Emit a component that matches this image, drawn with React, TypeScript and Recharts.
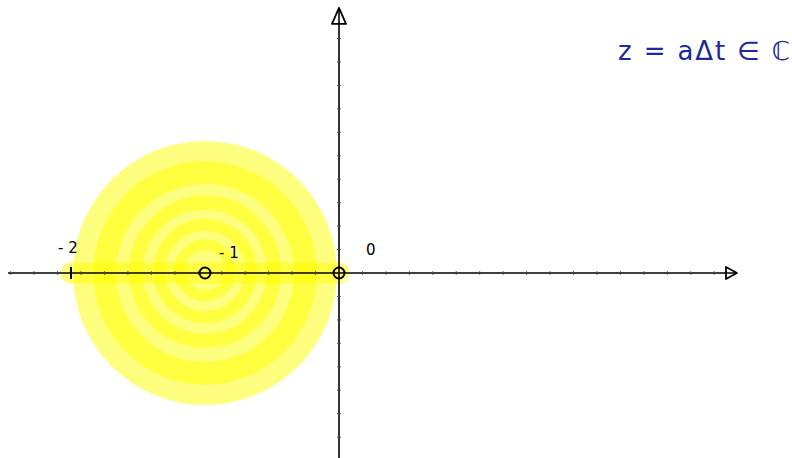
import { ScatterChart, Scatter, XAxis, YAxis } from 'recharts';

const W = 792;
const H = 458;
// pixels per unit, origin at (339, 273)
const UNIT = 134;
const X_DOMAIN: [number, number] = [-339 / UNIT, (W - 339) / UNIT];
const Y_DOMAIN: [number, number] = [-(H - 273) / UNIT, 273 / UNIT];

// shaded disk |z + 1| < 1 and its bands
const disk = [{ x: -1, y: 0, r: 0.985 }];
const rings = [
  { x: -1, y: 0, r: 0.75, w: 0.17 },
  { x: -1, y: 0.01, r: 0.515, w: 0.105 },
  { x: -1, y: 0.015, r: 0.343, w: 0.09 },
  { x: -1, y: 0.02, r: 0.19, w: 0.082 },
];
const band = [
  { x: -2, y: 0 },
  { x: 0, y: 0 },
];

// axes
const xAxisLine = [
  { x: -2.47, y: 0 },
  { x: 2.97, y: 0 },
];
const yAxisLine = [
  { x: 0, y: -1.381 },
  { x: 0, y: 1.978 },
];
const xArrow = [{ x: 2.97, y: 0 }];
const yArrow = [{ x: 0, y: 1.978 }];
const xTicks = [
  -2.45, -2.275, -2.1, -1.925, -1.75, -1.575, -1.4, -1.225, -1.05, -0.875, -0.7, -0.525, -0.35, -0.175,
  0.175, 0.35, 0.525, 0.7, 0.875, 1.05, 1.225, 1.4, 1.575, 1.75, 1.925, 2.1, 2.275, 2.45, 2.625, 2.8,
];
const yTicks = [
  -1.225, -1.05, -0.875, -0.7, -0.525, -0.35, -0.175,
  0.175, 0.35, 0.525, 0.7, 0.875, 1.05, 1.225, 1.4, 1.575, 1.75,
];
const bigTicks = [{ x: -2, y: 0 }];
const markers = [
  { x: -1, y: 0 },
  { x: 0, y: 0 },
];
const labels = [
  { x: -2, y: 0, text: '- 2', dx: -13, dy: -20 },
  { x: -1, y: 0, text: '- 1', dx: 14, dy: -15 },
  { x: 0, y: 0, text: '0', dx: 27, dy: -18 },
];
const formula = 'z = aΔt ∈ ℂ';

const YELLOW = '#ffff00';

const DiskShape = (p: any) => (
  <circle cx={p.cx} cy={p.cy} r={p.payload.r * UNIT} fill={YELLOW} fillOpacity={0.5} />
);
const RingShape = (p: any) => (
  <circle
    cx={p.cx}
    cy={p.cy}
    r={p.payload.r * UNIT}
    fill="none"
    stroke={YELLOW}
    strokeOpacity={0.5}
    strokeWidth={p.payload.w * UNIT}
  />
);
const Empty = () => <g />;
const XTickShape = (p: any) => (
  <line x1={p.cx} x2={p.cx} y1={p.cy - 1.8} y2={p.cy + 1.8} stroke="#444" strokeWidth={1} />
);
const YTickShape = (p: any) => (
  <line x1={p.cx - 1.8} x2={p.cx + 1.8} y1={p.cy} y2={p.cy} stroke="#444" strokeWidth={1} />
);
const BigTickShape = (p: any) => (
  <line x1={p.cx} x2={p.cx} y1={p.cy - 6} y2={p.cy + 6} stroke="#000" strokeWidth={2} />
);
const XArrowShape = (p: any) => (
  <polygon
    points={`${p.cx},${p.cy} ${p.cx - 11},${p.cy - 6} ${p.cx - 11},${p.cy + 6}`}
    fill="none"
    stroke="#000"
    strokeWidth={1.8}
    strokeLinejoin="round"
  />
);
const YArrowShape = (p: any) => (
  <polygon
    points={`${p.cx},${p.cy} ${p.cx - 7},${p.cy + 16} ${p.cx + 7},${p.cy + 16}`}
    fill="none"
    stroke="#000"
    strokeWidth={1.8}
    strokeLinejoin="round"
  />
);
const MarkerShape = (p: any) => (
  <circle cx={p.cx} cy={p.cy} r={5.5} fill="none" stroke="#000" strokeWidth={2} />
);
const LabelShape = (p: any) => (
  <text
    x={p.cx + p.payload.dx}
    y={p.cy + p.payload.dy}
    fontFamily="DejaVu Sans"
    fontSize={15}
    fill="#000"
  >
    {p.payload.text}
  </text>
);

export default function App() {
  return (
    <div style={{ position: 'fixed', left: 0, top: 0, width: W, height: H, background: '#fff' }}>
      <ScatterChart width={W} height={H} margin={{ top: 0, right: 0, bottom: 0, left: 0 }}>
        <XAxis type="number" dataKey="x" domain={X_DOMAIN} allowDataOverflow hide />
        <YAxis type="number" dataKey="y" domain={Y_DOMAIN} allowDataOverflow hide />
        <Scatter data={disk} shape={DiskShape} isAnimationActive={false} />
        <Scatter data={rings} shape={RingShape} isAnimationActive={false} />
        <Scatter
          data={band}
          shape={Empty}
          fill={YELLOW}
          line={{ stroke: YELLOW, strokeOpacity: 0.5, strokeWidth: 21, strokeLinecap: 'round' }}
          isAnimationActive={false}
        />
        <Scatter
          data={xAxisLine}
          shape={Empty}
          fill="#000"
          line={{ stroke: '#000', strokeWidth: 1.6 }}
          isAnimationActive={false}
        />
        <Scatter
          data={yAxisLine}
          shape={Empty}
          fill="#000"
          line={{ stroke: '#000', strokeWidth: 1.6 }}
          isAnimationActive={false}
        />
        <Scatter data={xTicks.map((x) => ({ x, y: 0 }))} shape={XTickShape} isAnimationActive={false} />
        <Scatter data={yTicks.map((y) => ({ x: 0, y }))} shape={YTickShape} isAnimationActive={false} />
        <Scatter data={bigTicks} shape={BigTickShape} isAnimationActive={false} />
        <Scatter data={xArrow} shape={XArrowShape} isAnimationActive={false} />
        <Scatter data={yArrow} shape={YArrowShape} isAnimationActive={false} />
        <Scatter data={markers} shape={MarkerShape} isAnimationActive={false} />
        <Scatter data={labels} shape={LabelShape} isAnimationActive={false} />
      </ScatterChart>
      <svg
        width={W}
        height={H}
        style={{ position: 'absolute', left: 0, top: 0, pointerEvents: 'none' }}
      >
        <text
          x={618}
          y={60}
          fontFamily="DejaVu Sans"
          fontSize={26}
          fill="#1b2a9c"
          textLength={172}
          lengthAdjust="spacing"
        >
          {formula}
        </text>
      </svg>
    </div>
  );
}
